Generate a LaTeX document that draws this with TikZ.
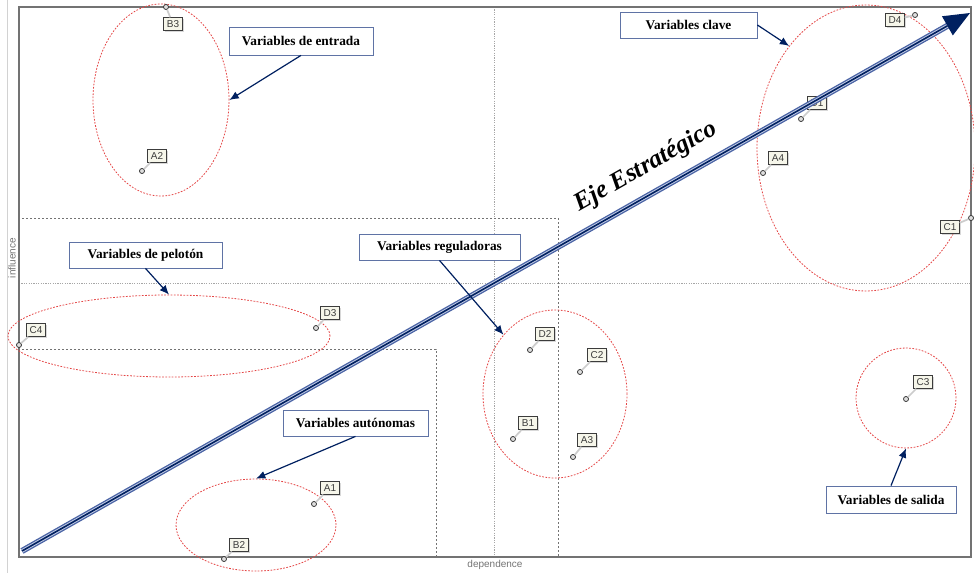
\documentclass[tikz,border=0pt]{standalone}
\usepackage{fontspec}
\setmainfont{Liberation Serif}
\setsansfont{Liberation Sans}
\usetikzlibrary{shapes.geometric,arrows.meta,calc,shadows}
\definecolor{navy}{RGB}{0,32,96}
\definecolor{axblue}{RGB}{75,100,165}
\definecolor{axlight}{RGB}{195,205,230}
\definecolor{boxblue}{RGB}{95,115,165}
\definecolor{grpred}{RGB}{228,70,70}
\definecolor{ptgray}{RGB}{60,60,60}
\definecolor{ptfill}{RGB}{246,246,234}
\definecolor{framegray}{RGB}{115,115,115}
\newcommand\varpt[5]{%
  \node[ptdot] (#1d) at (#4,#5) {};
  \node[ptlab] (#1l) at (#2,#3) {#1};
  \draw[ptstem] (#1d) -- (#1l);}
\begin{document}
\begin{tikzpicture}[x=0.75pt,y=-0.75pt,
  varbox/.style={draw=boxblue, line width=0.6pt, fill=white, font=\bfseries\fontsize{10}{12}\selectfont, inner sep=0pt, minimum height=19.5pt},
  grp/.style={ellipse, draw=grpred, dash pattern=on 1.3pt off 1.1pt, line width=0.6pt, inner sep=0pt},
  callout/.style={draw=navy, line width=0.9pt, -{Latex[length=7pt,width=6pt]}},
  ptlab/.style={draw=ptgray, fill=ptfill, line width=0.6pt, inner sep=0.5pt, font=\sffamily\fontsize{7.5}{8}\selectfont, text=ptgray, minimum width=14pt, minimum height=9.5pt, drop shadow={shadow xshift=1pt, shadow yshift=-1pt, fill=gray!60}},
  ptdot/.style={circle, draw=ptgray, fill=gray!25, inner sep=0pt, minimum size=3.8pt, line width=0.6pt},
  ptstem/.style={draw=gray!40, line width=1.3pt},
  midline/.style={draw=gray!70, dash pattern=on 0.9pt off 0.9pt, line width=0.6pt},
  boxline/.style={draw=gray!90!black, dash pattern=on 1.5pt off 1.5pt, line width=0.6pt},
  axlabel/.style={font=\sffamily\fontsize{7.5}{8}\selectfont, text=gray!90!black, inner sep=0pt}]
\useasboundingbox (0,0) rectangle (974,573);
% faint outer line
\draw[gray!35, line width=0.7pt] (7,0) -- (7,573);
% grid lines
\draw[midline] (494,7) -- (494,557);
\draw[midline] (19,283) -- (971,283);
\draw[boxline] (22,218) -- (558,218) -- (558,557);
\draw[boxline] (22,349) -- (436,349) -- (436,557);
% frame
\draw[framegray, line width=1.1pt] (19,7) rectangle (971,557);
% axis labels
\node[axlabel, rotate=90] (infl) at (12,258) {influence};
\node[axlabel] (dep) at (495,565) {dependence};
% groups
\node[grp, minimum width=102pt, minimum height=144pt] (entE) at (161,100) {};
\node[grp, minimum width=163.5pt, minimum height=214.5pt] (claE) at (866,148) {};
\node[grp, minimum width=241.5pt, minimum height=61.5pt] (pelE) at (169,336) {};
\node[grp, minimum width=108pt, minimum height=126pt] (regE) at (555,394) {};
\node[grp, minimum width=120pt, minimum height=69pt] (autE) at (256,525) {};
\node[grp, minimum width=75pt, minimum height=75pt] (salE) at (906,398) {};
% points
\varpt{B3}{173}{24}{166}{7}
\varpt{A2}{157}{156}{142}{171}
\varpt{D4}{895}{20}{915}{15}
\varpt{A4}{778}{158}{763}{173}
\varpt{C1}{950}{227}{971}{218}
\varpt{C4}{36}{330}{19}{345}
\varpt{D3}{330}{313}{316}{328}
\varpt{D2}{545}{334}{530}{350}
\varpt{C2}{597}{355}{580}{372}
\varpt{B1}{528}{423}{513}{439}
\varpt{A3}{587}{440}{573}{457}
\varpt{A1}{330}{488}{314}{504}
\varpt{B2}{239}{545}{224}{559}
\varpt{C3}{923}{382}{906}{399}
\varpt{D1}{817}{103}{801}{119}
% strategic axis
\coordinate (s) at (22,551);
\coordinate (tip) at (970,13);
\coordinate (b) at ($(tip)!19.5pt!(s)$);
\draw[line width=4.6pt, axblue] (s) -- (b);
\draw[line width=2.6pt, axlight] (s) -- (b);
\draw[line width=1.2pt, navy] (s) -- (b);
\fill[navy] (tip) -- ($(b)!8.25pt!90:(tip)$) -- ($(b)!8.25pt!-90:(tip)$) -- cycle;
\node[font=\bfseries\itshape\fontsize{19}{20}\selectfont, rotate=29.57, inner sep=0pt] (eje) at (646,167) {Eje Estratégico};
% callout boxes
\node[varbox, minimum width=108pt, minimum height=21pt] (entT) at (301,41) {Variables de entrada};
\node[varbox, minimum width=102.75pt] (claT) at (688.5,25) {Variables clave};
\node[varbox, minimum width=114.75pt] (pelT) at (145.5,255) {Variables de pelotón};
\node[varbox, minimum width=120.75pt] (regT) at (439.5,247) {Variables reguladoras};
\node[varbox, minimum width=108.75pt] (autT) at (355.5,423) {Variables autónomas};
\node[varbox, minimum width=97.5pt, minimum height=20.25pt] (salT) at (891,499.5) {Variables de salida};
% callout arrows
\draw[callout] (entT.south) -- (entE.east);
\draw[callout] (claT.east) -- (claE.127);
\draw[callout] (pelT.south) -- (pelE.north);
\draw[callout] (regT.south) -- (regE.131);
\draw[callout] (autT.south) -- (autE.north);
\draw[callout] (salT.north) -- (salE.south);
\end{tikzpicture}
\end{document}
